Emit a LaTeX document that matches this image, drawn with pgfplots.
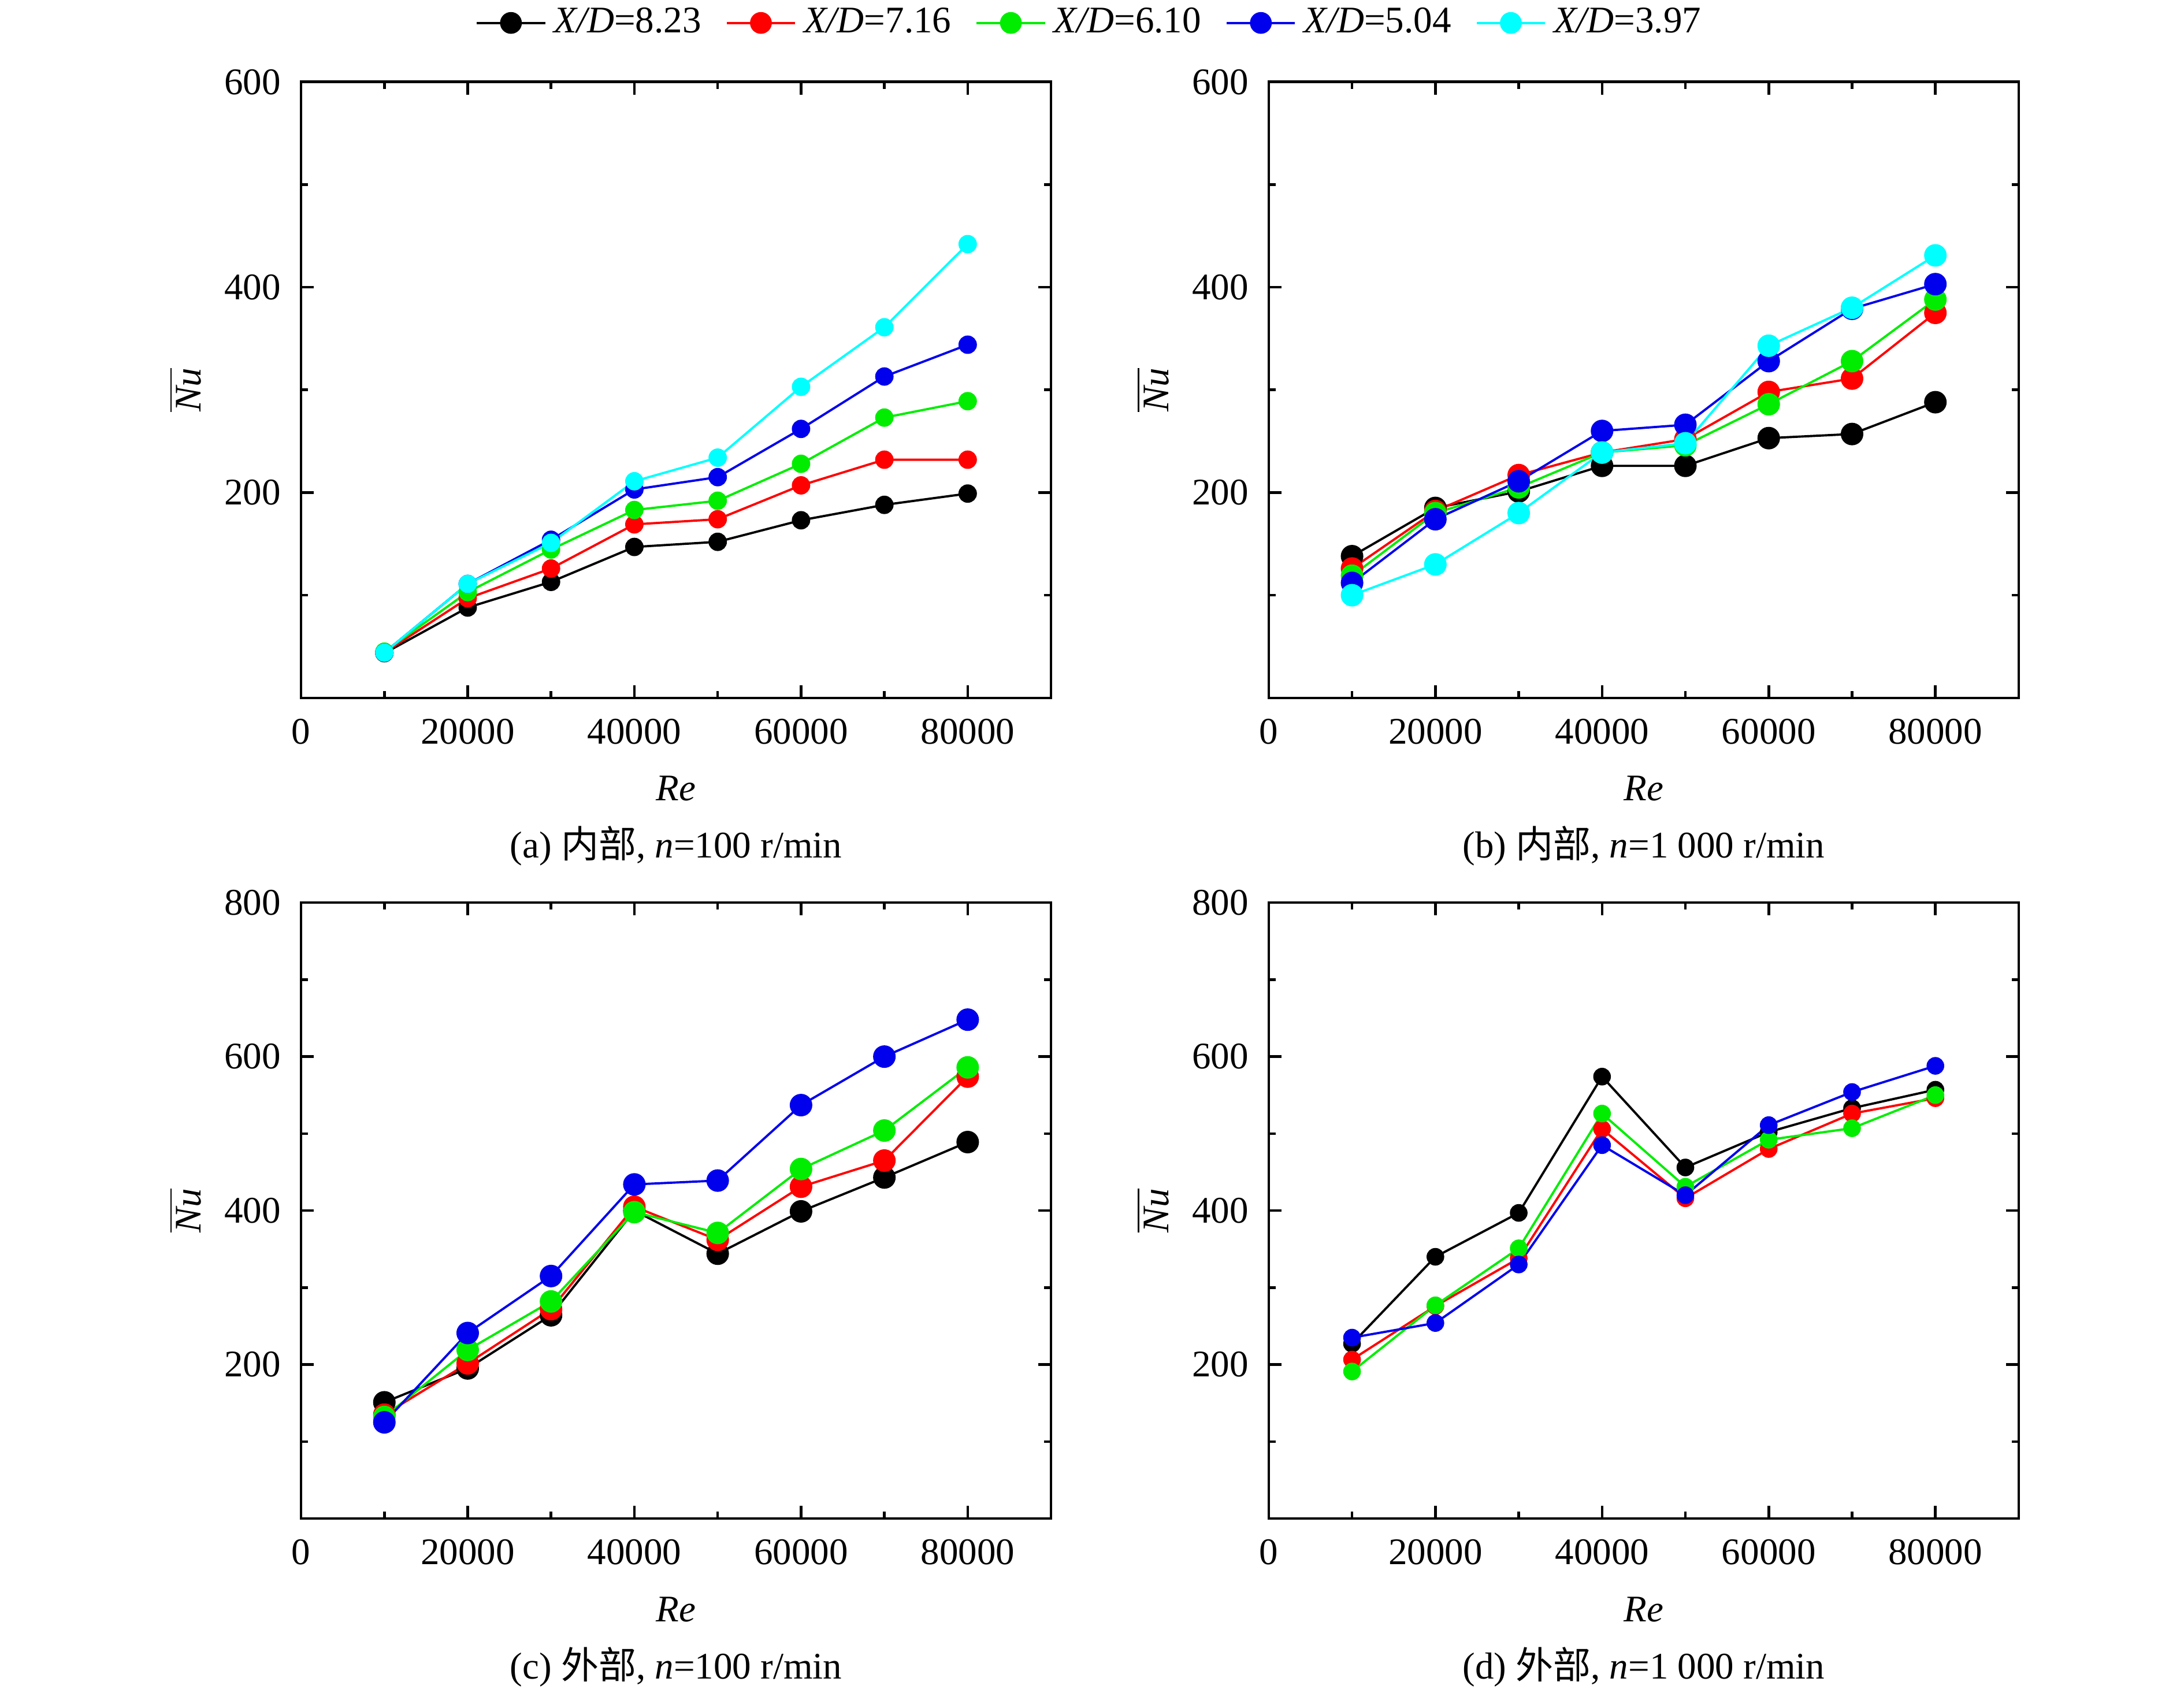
\documentclass[border=0pt]{standalone}
\usepackage{fontspec}
\setmainfont{Liberation Serif}
\newfontfamily\cjk{Noto Sans CJK SC}
\usepackage{pgfplots}
\pgfplotsset{compat=1.18}

\definecolor{cblack}{rgb}{0,0,0}
\definecolor{cred}{rgb}{1,0,0}
\definecolor{cgreen}{rgb}{0,0.93,0}
\definecolor{cblue}{rgb}{0,0,0.93}
\definecolor{ccyan}{rgb}{0,1,1}

% panel (a): inner, n=100
\pgfplotstableread{
x     k     r     g     b     c
10000 43.5  44    45    44    44
20000 88    97    103   111   111
30000 113   126   144.5 154   151
40000 147   169   183   203   211
50000 152   174   192   215   234
60000 173   207   228   262   303
70000 188   232   273   313   361
80000 199   232   289   344   442
}\tabA
% panel (b): inner, n=1000
\pgfplotstableread{
x     k     r     g     b     c
10000 138   126   119   112   100
20000 185   182   180   174   130
30000 201   217   205   211   180
40000 226   239   239   260   239
50000 226   252   246   266   248
60000 253   298   286   328   343
70000 257   311   328   379   380
80000 288   375   388   403   431
}\tabB
% panel (c): outer, n=100
\pgfplotstableread{
x     k     r     g     b
10000 151   135   132   125
20000 195   201.5 219   241
30000 264   272   282   315
40000 400   405   398   434
50000 344   362   371   439
60000 399   431   454   537
70000 443   465   504   600
80000 489   574   586   648
}\tabC
% panel (d): outer, n=1000
\pgfplotstableread{
x     k     r     g     b
10000 227   206.5 191   235
20000 340   276   277   254
30000 397   338   351   330
40000 574   506   526   485
50000 456   416   431   420
60000 502   480   492   511
70000 533   526   507   554
80000 557   546   550   588
}\tabD

\pgfplotsset{
  panel/.style={
    scale only axis, width=199.7pt, height=164pt,
    xmin=0, xmax=90000,
    ymin=0,
    xtick={0,20000,40000,60000,80000},
    minor xtick={10000,30000,50000,70000},
    scaled x ticks=false, scaled y ticks=false,
    /pgf/number format/set thousands separator={},
    /pgf/number format/assume math mode=true,
    xticklabel style={yshift=-2.1pt},
    yticklabel style={xshift=-1.9pt},
    tick align=inside,
    major tick length=3.4pt, minor tick length=1.85pt,
    axis line style={line width=0.7pt},
    tick style={black, line width=0.7pt},
    xlabel={\textit{Re}},
    ylabel={$\overline{\textit{Nu}}$},
    xlabel style={at={(axis description cs:0.5,-0.1474)}, anchor=center},
    ylabel style={at={(axis description cs:-0.1547,0.5)}, anchor=center},
    clip=false,
    every axis plot/.append style={line width=0.6pt, mark=*, forget plot},
  },
  toprow/.style={panel, ymax=600, ytick={200,400,600}, minor ytick={100,300,500}},
  botrow/.style={panel, ymax=800, ytick={200,400,600,800}, minor ytick={100,300,500,700}},
}

\begin{document}
\begin{tikzpicture}
\useasboundingbox (0,0) rectangle (581.5pt,450.6pt);

% (a)
\begin{axis}[toprow, at={(80.15pt,264.8pt)}, anchor=south west,
  legend columns=5,
  legend style={draw=none, fill=none, at={(1.0548,1.0957)}, anchor=center,
    /tikz/every even column/.append style={column sep=4.5pt}},
  legend image code/.code={\draw[mark repeat=2,mark phase=2] plot coordinates {(0cm,0cm) (0.32cm,0cm) (0.64cm,0cm)};},
]
\addlegendimage{cblack, line width=0.6pt, mark=*, mark size=2.6pt}
\addlegendentry{\textit{X/D}=8.23}
\addlegendimage{cred, line width=0.6pt, mark=*, mark size=2.6pt}
\addlegendentry{\textit{X/D}=7.16}
\addlegendimage{cgreen, line width=0.6pt, mark=*, mark size=2.6pt}
\addlegendentry{\textit{X/D}=6.10}
\addlegendimage{cblue, line width=0.6pt, mark=*, mark size=2.6pt}
\addlegendentry{\textit{X/D}=5.04}
\addlegendimage{ccyan, line width=0.6pt, mark=*, mark size=2.6pt}
\addlegendentry{\textit{X/D}=3.97}
\addplot[cblack, mark size=2.15pt] table[x=x,y=k] {\tabA};
\addplot[cred,   mark size=2.15pt] table[x=x,y=r] {\tabA};
\addplot[cgreen, mark size=2.15pt] table[x=x,y=g] {\tabA};
\addplot[cblue,  mark size=2.15pt] table[x=x,y=b] {\tabA};
\addplot[ccyan,  mark size=2.15pt] table[x=x,y=c] {\tabA};
\node[anchor=base] at (axis description cs:0.5,-0.2598) {(a) {\cjk 内部}, \textit{n}=100 r/min};
\end{axis}

% (b)
\begin{axis}[toprow, at={(337.8pt,264.8pt)}, anchor=south west]
\addplot[cblack, mark size=2.7pt] table[x=x,y=k] {\tabB};
\addplot[cred,   mark size=2.7pt] table[x=x,y=r] {\tabB};
\addplot[cgreen, mark size=2.7pt] table[x=x,y=g] {\tabB};
\addplot[cblue,  mark size=2.7pt] table[x=x,y=b] {\tabB};
\addplot[ccyan,  mark size=2.7pt] table[x=x,y=c] {\tabB};
\node[anchor=base] at (axis description cs:0.5,-0.2598) {(b) {\cjk 内部}, \textit{n}=1~000 r/min};
\end{axis}

% (c)
\begin{axis}[botrow, at={(80.15pt,46.3pt)}, anchor=south west]
\addplot[cblack, mark size=2.7pt] table[x=x,y=k] {\tabC};
\addplot[cred,   mark size=2.7pt] table[x=x,y=r] {\tabC};
\addplot[cgreen, mark size=2.7pt] table[x=x,y=g] {\tabC};
\addplot[cblue,  mark size=2.7pt] table[x=x,y=b] {\tabC};
\node[anchor=base] at (axis description cs:0.5,-0.2598) {(c) {\cjk 外部}, \textit{n}=100 r/min};
\end{axis}

% (d)
\begin{axis}[botrow, at={(337.8pt,46.3pt)}, anchor=south west]
\addplot[cblack, mark size=2.05pt] table[x=x,y=k] {\tabD};
\addplot[cred,   mark size=2.05pt] table[x=x,y=r] {\tabD};
\addplot[cgreen, mark size=2.05pt] table[x=x,y=g] {\tabD};
\addplot[cblue,  mark size=2.05pt] table[x=x,y=b] {\tabD};
\node[anchor=base] at (axis description cs:0.5,-0.2598) {(d) {\cjk 外部}, \textit{n}=1~000 r/min};
\end{axis}
\end{tikzpicture}
\end{document}
